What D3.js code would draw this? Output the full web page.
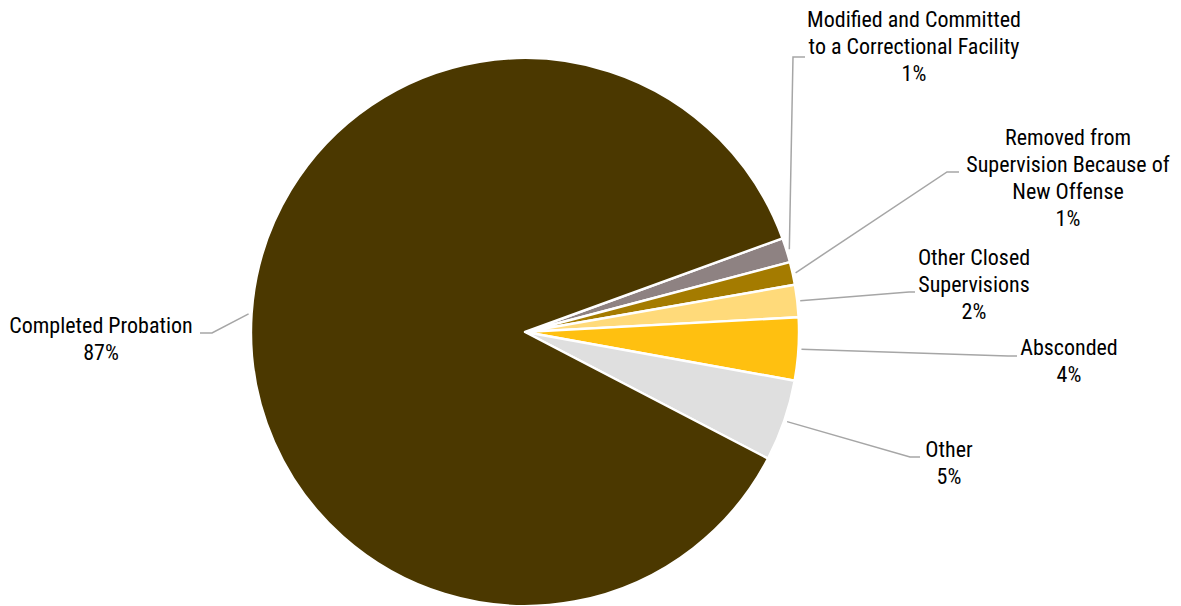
<!DOCTYPE html>
<html>
<head>
<meta charset="utf-8">
<script src="https://cdn.jsdelivr.net/npm/d3@7"></script>
<style>
  html, body { margin: 0; padding: 0; background: #fff; }
  svg { display: block; }
  text { font-family: "Liberation Sans Narrow", "Arial Narrow", "Roboto Condensed", sans-serif; fill: #000; }
</style>
</head>
<body>
<svg id="chart" width="1181" height="606"></svg>
<script>
// ---- data ----
const categories = [
  "Modified and Committed to a Correctional Facility",
  "Removed from Supervision Because of New Offense",
  "Other Closed Supervisions",
  "Absconded",
  "Other",
  "Completed Probation"
];
const values = [1.45, 1.35, 1.9, 3.7, 4.8, 86.8];
const labelLines = [
  ["Modified and Committed", "to a Correctional Facility"],
  ["Removed from", "Supervision Because of", "New Offense"],
  ["Other Closed", "Supervisions"],
  ["Absconded"],
  ["Other"],
  ["Completed Probation"]
];
const colors = ["#8E8282", "#A47B00", "#FFDA7A", "#FFC010", "#DFDFDF", "#4B3800"];

// ---- layout (label anchors: text centre x, first-line y, leader elbow x/y, leader end x) ----
const labelLayout = [
  { tx: 914, ty: 27, ex: 793, ey: 57, endX: 805 },
  { tx: 1068, ty: 145, ex: 947, ey: 172, endX: 959 },
  { tx: 974, ty: 265, ex: 909, ey: 292, endX: 915 },
  { tx: 1069, ty: 355, ex: 1008, ey: 356, endX: 1017 },
  { tx: 949, ty: 457, ex: 910, ey: 457, endX: 920 },
  { tx: 101, ty: 333, ex: 212, ey: 333, endX: 200 }
];

const cx = 525, cy = 332, r = 274;
const startDeg = 70;

const svg = d3.select("#chart");
const g = svg.append("g").attr("transform", `translate(${cx},${cy})`);

const total = d3.sum(values);
const data = categories.map((c, i) => ({ name: c, value: values[i], i }));
const pie = d3.pie().sort(null).value(d => d.value)
  .startAngle(startDeg * Math.PI / 180)
  .endAngle(startDeg * Math.PI / 180 + 2 * Math.PI);
const arcs = pie(data);
const arc = d3.arc().innerRadius(0).outerRadius(r);
const edgeArc = d3.arc().innerRadius(r + 3).outerRadius(r + 3);

g.selectAll("path.slice").data(arcs).enter().append("path")
  .attr("class", "slice")
  .attr("d", arc)
  .attr("fill", d => colors[d.data.i])
  .attr("stroke", "#fff")
  .attr("stroke-width", 2.4)
  .attr("stroke-linejoin", "round");

const pct = d3.format(".0%");
const lineH = 27;

arcs.forEach(d => {
  const L = labelLayout[d.data.i];
  const [sx, sy] = edgeArc.centroid(d);
  svg.append("polyline")
    .attr("points", [[cx + sx, cy + sy], [L.ex, L.ey], [L.endX, L.ey]].map(p => p.join(",")).join(" "))
    .attr("fill", "none")
    .attr("stroke", "#A6A6A6")
    .attr("stroke-width", 1.5);
  const lines = labelLines[d.data.i].concat([pct(d.data.value / total)]);
  const t = svg.append("text")
    .attr("text-anchor", "middle")
    .attr("font-size", 22);
  lines.forEach((s, k) => {
    t.append("tspan").attr("x", L.tx).attr("y", L.ty + k * lineH).text(s);
  });
});
</script>
</body>
</html>
